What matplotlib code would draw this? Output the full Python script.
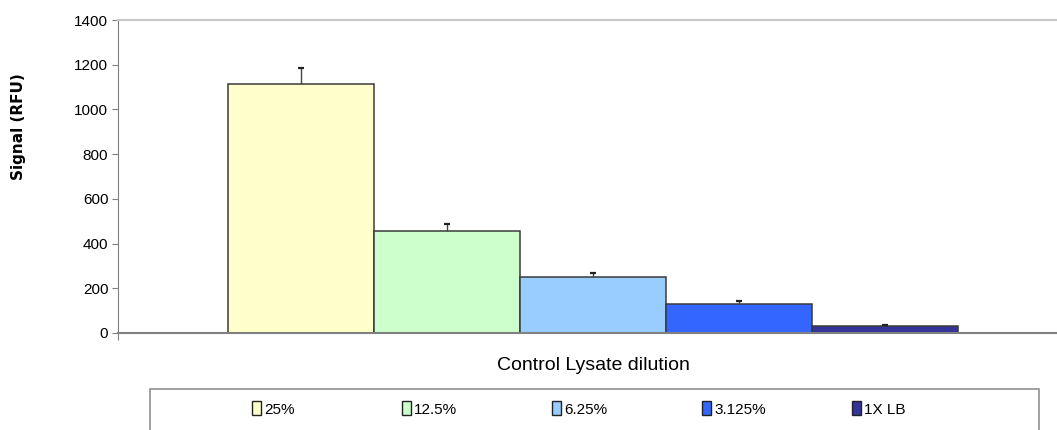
import matplotlib

matplotlib.use("Agg")
import matplotlib.pyplot as plt
from matplotlib.patches import Patch, Rectangle

# values
labels = ["25%", "12.5%", "6.25%", "3.125%", "1X LB"]
signal = [1112, 457, 252, 128, 33]
err_up = [72, 29, 18, 16, 4]
colors = ["#FFFFCC", "#CCFFCC", "#99CCFF", "#3366FF", "#333399"]

plt.rcParams["font.family"] = ["Liberation Sans Narrow", "Liberation Sans", "DejaVu Sans"]

W, H = 1057, 430
fig = plt.figure(figsize=(W / 100, H / 100), dpi=100)
ax = fig.add_axes([118 / W, 1 - 333 / H, (W - 118) / W, 313 / H])

x = list(range(len(labels)))
ax.bar(x, signal, width=1.0, color=colors, edgecolor="#3a3a3a", linewidth=1.1, zorder=2)
# upper error bars only, cap on top
tops = [s + e for s, e in zip(signal, err_up)]
ax.vlines(x, signal, tops, color="#444444", linewidth=1.0, zorder=3)
ax.plot(x, tops, linestyle="none", marker="_", markersize=5, markeredgewidth=1.6,
        color="#222222", zorder=3)

left = -1.253
ax.set_xlim(left, left + (W - 118) / 146)
ax.set_ylim(0, 1400)
ax.set_yticks(range(0, 1401, 200))
ax.tick_params(axis="y", direction="out", length=4, color="#808080", labelsize=11, pad=3)
ax.set_xticks([left])
ax.set_xticklabels([""])
ax.tick_params(axis="x", direction="out", length=5, color="#808080")

ax.spines["left"].set_color("#808080")
ax.spines["bottom"].set_color("#808080")
ax.spines["bottom"].set_linewidth(1.5)
ax.spines["top"].set_color("#c8c8c8")
ax.spines["top"].set_linewidth(1.5)
ax.spines["right"].set_visible(False)

fig.text(18 / W, 1 - 127 / H, "Signal (RFU)", rotation=90, ha="center", va="center",
         fontsize=11, fontweight="bold", family=["DejaVu Sans"])
fig.text(593 / W, 1 - 366 / H, "Control Lysate dilution", ha="center", va="center", fontsize=14)

# legend box runs off the bottom of the image
fig.patches.append(Rectangle((150 / W, -0.1), (1039 - 150) / W, 0.1 + 1 - 389 / H,
                             transform=fig.transFigure, facecolor="none",
                             edgecolor="#909090", linewidth=1.2))
for i, (lab, col) in enumerate(zip(labels, colors)):
    h = Patch(facecolor=col, edgecolor="#222222", linewidth=1.0)
    fig.legend(handles=[h], labels=[lab], loc="center left",
               bbox_to_anchor=((252 + 150 * i) / W, 1 - 409 / H), frameon=False,
               fontsize=11, handlelength=0.6, handleheight=1.0, handletextpad=0.2,
               borderpad=0, borderaxespad=0)

fig.savefig("out.png", dpi=100)
